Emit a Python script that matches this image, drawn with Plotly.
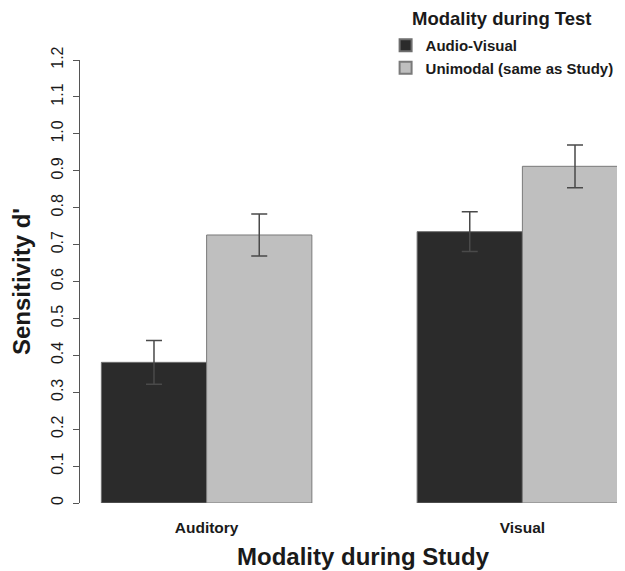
import plotly.graph_objects as go

study_modality = ["Auditory", "Visual"]
test_modality = ["Audio-Visual", "Unimodal (same as Study)"]
av_values = [0.381, 0.735]
av_errors = [0.059, 0.054]
uni_values = [0.726, 0.912]
uni_errors = [0.057, 0.058]
y_ticks = [0, 0.1, 0.2, 0.3, 0.4, 0.5, 0.6, 0.7, 0.8, 0.9, 1.0, 1.1, 1.2]
y_ticklabels = ["0", "0.1", "0.2", "0.3", "0.4", "0.5", "0.6", "0.7", "0.8", "0.9", "1.0", "1.1", "1.2"]
x_title = "Modality during Study"
legend_title = "Modality during Test"

FONT = "Liberation Sans, Arial, Helvetica, sans-serif"
TXT = "#1a1a1a"
err_style = dict(type="data", symmetric=True, color="#4a4a4a", thickness=1.5, width=8)

fig = go.Figure()
fig.add_trace(go.Bar(
    x=study_modality, y=av_values, name="<b>" + test_modality[0] + "</b>",
    marker=dict(color="#2b2b2b", line=dict(color="#6e6e6e", width=1)),
    error_y=dict(array=av_errors, **err_style),
))
fig.add_trace(go.Bar(
    x=study_modality, y=uni_values, name="<b>" + test_modality[1] + "</b>",
    marker=dict(color="#bfbfbf", line=dict(color="#7a7a7a", width=1)),
    error_y=dict(array=uni_errors, **err_style),
))

fig.add_annotation(
    text="<b>" + x_title + "</b>", xref="paper", yref="paper",
    x=0.521, y=0, yshift=-53, xanchor="center", yanchor="middle",
    showarrow=False, font=dict(size=24, family=FONT, color=TXT),
)
fig.add_annotation(
    text="<b>" + legend_title + "</b>", xref="paper", yref="paper",
    x=0.775, y=1.0948, xanchor="center", yanchor="middle",
    showarrow=False, font=dict(size=18.5, family=FONT, color=TXT),
)

fig.update_layout(
    width=617, height=563,
    margin=dict(l=72, r=0, t=52, b=68, autoexpand=False),
    paper_bgcolor="white", plot_bgcolor="white",
    barmode="group", bargap=1/3, bargroupgap=0,
    font=dict(family=FONT, color=TXT),
    showlegend=True,
    legend=dict(
        xref="container", yref="paper",
        x=0.612, y=1.070, xanchor="left", yanchor="top",
        bgcolor="rgba(0,0,0,0)",
        font=dict(size=15, family=FONT, color=TXT),
        tracegroupgap=0, itemsizing="constant",
    ),
    xaxis=dict(
        type="category", range=[-0.401, 1.325],
        showline=False, showgrid=False, zeroline=False, ticks="",
        tickfont=dict(size=15.5, family=FONT, color=TXT, weight="bold"),
        ticklabelstandoff=13,
    ),
    yaxis=dict(
        range=[0, 1.2], showline=True, linecolor="#555555", linewidth=1,
        showgrid=False, zeroline=False,
        ticks="outside", ticklen=6, tickcolor="#555555",
        tickvals=y_ticks, ticktext=y_ticklabels, tickangle=-90,
        tickfont=dict(size=16, family=FONT, color=TXT),
        ticklabelstandoff=4,
        title=dict(text="<b>Sensitivity d'</b>", font=dict(size=24, family=FONT, color=TXT), standoff=12),
    ),
)

fig.write_html("out.html")
